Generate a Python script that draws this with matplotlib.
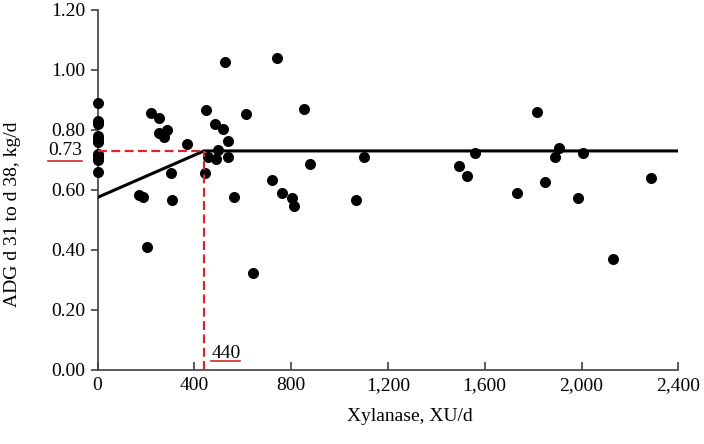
import matplotlib
matplotlib.use("Agg")
import matplotlib.pyplot as plt

xylanase = [0, 0, 0, 0, 0, 0, 0, 0, 0, 0,
            171, 190, 203, 219, 256, 256, 273, 287, 303, 306,
            368, 444, 450, 458, 485, 491, 499, 520, 525, 538,
            539, 564, 614, 641, 723, 743, 764, 805, 813, 852,
            880, 1067, 1100, 1492, 1525, 1558, 1735, 1815, 1848, 1892,
            1905, 1987, 2007, 2132, 2287]
adg = [0.89, 0.82, 0.83, 0.78, 0.77, 0.76, 0.72, 0.71, 0.70, 0.66,
       0.583, 0.577, 0.411, 0.856, 0.839, 0.789, 0.778, 0.80, 0.658, 0.568,
       0.754, 0.658, 0.866, 0.711, 0.819, 0.703, 0.733, 0.803, 1.028, 0.709,
       0.762, 0.577, 0.853, 0.324, 0.634, 1.039, 0.591, 0.573, 0.548, 0.870,
       0.688, 0.566, 0.711, 0.681, 0.648, 0.724, 0.591, 0.859, 0.628, 0.711,
       0.741, 0.572, 0.724, 0.371, 0.639]

# broken-line fit
fit_x = [0, 440, 2400]
fit_y = [0.575, 0.73, 0.73]
breakpoint_x = 440
plateau_y = 0.73

plt.rcParams['font.family'] = ['Liberation Serif', 'DejaVu Serif']
plt.rcParams['font.size'] = 14

fig = plt.figure(figsize=(7.04, 4.44), dpi=100)
ax = fig.add_axes([0.1385, 0.1667, 0.825, 0.811])

ax.scatter(xylanase, adg, s=48, color='black', zorder=3, clip_on=False)
ax.plot(fit_x, fit_y, color='black', lw=2.2, zorder=4)

red = '#d7262b'
ax.plot([0, breakpoint_x], [plateau_y, plateau_y], color=red, lw=1.6,
        ls=(0, (4, 2)), zorder=5)
ax.plot([breakpoint_x, breakpoint_x], [0, plateau_y], color=red, lw=1.6,
        ls=(0, (4, 2)), zorder=5)

ax.set_xlim(0, 2400)
ax.set_ylim(0, 1.2)
ax.set_xticks([0, 400, 800, 1200, 1600, 2000, 2400])
ax.set_xticklabels(['0', '400', '800', '1,200', '1,600', '2,000', '2,400'])
ax.set_yticks([0, 0.2, 0.4, 0.6, 0.8, 1.0, 1.2])
ax.set_yticklabels(['%.2f' % v for v in [0, 0.2, 0.4, 0.6, 0.8, 1.0, 1.2]])

for s in ['top', 'right']:
    ax.spines[s].set_visible(False)
for s in ['left', 'bottom']:
    ax.spines[s].set_color('#404040')
    ax.spines[s].set_linewidth(1.2)
ax.tick_params(axis='x', direction='in', length=6, width=1.2, color='#404040', pad=5)
ax.tick_params(axis='y', direction='out', length=5, width=1.2, color='#404040', pad=4)

ax.set_xlabel('Xylanase, XU/d')
ax.set_ylabel('ADG d 31 to d 38, kg/d')
ax.xaxis.set_label_coords(0.538, -0.105)
ax.yaxis.set_label_coords(-0.131, 0.433)

# annotations with red underline
t1 = ax.text(470, 0.025, '440', ha='left', va='bottom')
t2 = ax.text(-0.085, plateau_y, '0.73', ha='left', va='center',
             transform=ax.get_yaxis_transform())
fig.canvas.draw()
r = fig.canvas.get_renderer()
for t, dy in ((t1, 1), (t2, -2)):
    bb = t.get_window_extent(r)
    y = bb.y0 + dy
    fig.add_artist(plt.Line2D([bb.x0 / fig.bbox.width, bb.x1 / fig.bbox.width],
                              [y / fig.bbox.height, y / fig.bbox.height],
                              color=red, lw=1.2, transform=fig.transFigure))

fig.savefig('out.png', dpi=100)
